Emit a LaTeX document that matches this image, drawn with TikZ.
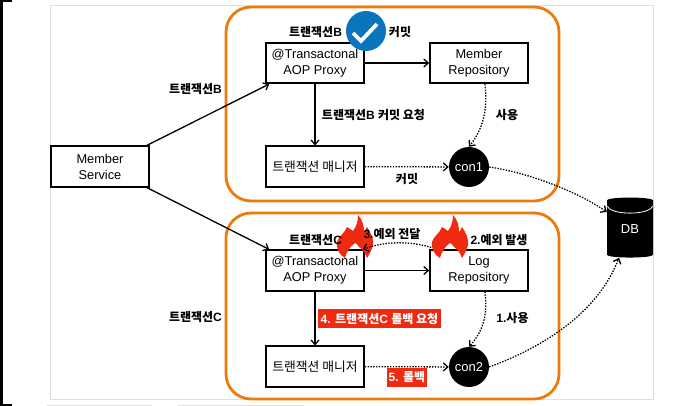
\documentclass[tikz,border=0pt]{standalone}
\usepackage{fontspec}
\setmainfont{Liberation Sans}
\newfontfamily\kr{Noto Sans CJK KR}
\usetikzlibrary{shapes.geometric,arrows.meta}
\definecolor{framegray}{HTML}{E0E0E0}
\definecolor{txorange}{HTML}{EE7A0C}
\definecolor{firered}{HTML}{EE2A10}
\definecolor{checkblue}{HTML}{0A75BC}
\tikzset{
  compbox/.style={draw,line width=1.6pt,minimum width=98pt,minimum height=40.5pt,align=center,inner sep=0pt,font=\fontsize{12.8}{16}\selectfont},
  txbox/.style={draw=txorange,line width=2.8pt,rounded corners=25pt},
  connode/.style={circle,fill=black,text=white,minimum size=40pt,inner sep=0pt,font=\fontsize{13}{16}\selectfont},
  lbl/.style={inner sep=0pt,font=\fontsize{12}{14}\selectfont\bfseries},
  redlbl/.style={fill=firered,text=white,inner sep=0pt,minimum height=19pt,font=\fontsize{12}{14}\selectfont\bfseries},
  call/.style={-{Straight Barb[length=4.5pt,width=8pt]},line width=1.3pt},
  use/.style={-{Straight Barb[length=4.5pt,width=8pt]},line width=1.3pt,dash pattern=on 1.4pt off 1.4pt},
  fire/.pic={
    \fill[firered] (-10,22) .. controls (-16,19) and (-19,12) .. (-18,6)
      .. controls (-17,1) and (-10,-3) .. (-8,-9)
      .. controls (-5,-8) and (-3,-5) .. (-2,-5)
      .. controls (2,-10) and (3,-16) .. (3,-21)
      .. controls (8,-16) and (9,-9) .. (9,-4)
      .. controls (10,-5) and (11,-6) .. (12,-9)
      .. controls (16,-3) and (19,3) .. (18,9)
      .. controls (17,14) and (14,19) .. (12,22)
      .. controls (10,16) and (6,12) .. (4,11)
      .. controls (3,9) and (1,7) .. (0,7)
      .. controls (-3,9) and (-8,14) .. (-10,22) -- cycle;
  },
}
\begin{document}
\begin{tikzpicture}[x=1pt,y=-1pt]
  \useasboundingbox (0,0) rectangle (680,406);

  % frame of the slide
  \draw[framegray,line width=1pt] (50.5,6) rectangle (653,399);
  \fill[black] (0,0) rectangle (3,406);
  \fill[black] (0,0) rectangle (12,2);
  \fill[black] (0,404) rectangle (12,406);
  \fill[framegray] (47,404.5) rectangle (152,406);
  \fill[framegray] (178,404.5) rectangle (304,406);

  % orange groups
  \draw[txbox] (226,7) rectangle (559,201);
  \draw[txbox] (226,213) rectangle (559,399);

  % boxes
  \node[compbox] (ms) at (100,166.5) {Member\\Service};
  \node[compbox] (proxyb) at (315,63) {@Transactonal\\AOP Proxy};
  \node[compbox] (repob) at (479,63) {Member\\Repository};
  \node[compbox] (mgrb) at (315,166.5) {\kr 트랜잭션 매니저};
  \node[connode] (con1) at (469,167) {con1};
  \node[compbox] (proxyc) at (315,270.5) {@Transactonal\\AOP Proxy};
  \node[compbox] (repoc) at (479,270.5) {Log\\Repository};
  \node[compbox] (mgrc) at (315,366.5) {\kr 트랜잭션 매니저};
  \node[connode] (con2) at (469,367) {con2};

  % DB
  \node[cylinder,shape border rotate=90,aspect=0.3,fill=black,text=white,minimum width=46pt,minimum height=60pt,inner sep=0pt,font=\fontsize{13}{16}\selectfont] (db) at (630,229) {DB};
  \draw[white,line width=0.8pt] (607.5,206) .. controls (610,215.5) and (650,215.5) .. (652.5,206);

  % calls
  \draw[call] ([xshift=-3pt]ms.north east) -- ([xshift=4pt]proxyb.south west);
  \draw[call] ([xshift=-3pt]ms.south east) -- ([xshift=4pt]proxyc.north west);
  \draw[call] (proxyb) -- (repob);
  \draw[call] (proxyc) -- (repoc);
  \draw[call] (proxyb) -- (mgrb);
  \draw[call] (proxyc) -- (mgrc);

  % connections
  \draw[use] (mgrb) -- (con1);
  \draw[use] (mgrc) -- (con2);
  \draw[use] ([xshift=6pt]repob.south) .. controls (487,105) and (486,125) .. (con1.north);
  \draw[use] ([xshift=6pt]repoc.south) .. controls (487,310) and (486,328) .. (con2.north);
  \draw[use] (con1.east) .. controls (525,172) and (575,190) .. ([yshift=17pt]db.west);
  \draw[use] (con2.east) .. controls (530,352) and (595,320) .. ([xshift=-11pt]db.south);

  % fire
  \pic at (355,236) {fire};
  \pic at (450,236) {fire};
  \draw[use] ([xshift=2pt,yshift=2pt]repoc.north west) .. controls (410,241) and (385,241) .. ([xshift=-2pt]proxyc.north east);

  % check
  \node[circle,fill=checkblue,minimum size=40pt,inner sep=0pt] (check) at (366,31) {};
  \coordinate (c1) at (353,33);
  \coordinate (c2) at (361,41);
  \coordinate (c3) at (377,24);
  \draw[white,line width=3.8pt] (c1) -- (c2) -- (c3);

  % labels
  \node[lbl] (lb1) at (315.5,32) {{\kr 트랜잭션}B};
  \node[lbl] (lb2) at (400,32) {\kr 커밋};
  \node[lbl] (lb3) at (195.5,89) {{\kr 트랜잭션}B};
  \node[lbl] (lb4) at (373.5,115) {{\kr 트랜잭션}B {\kr 커밋 요청}};
  \node[lbl] (lb5) at (507,115) {\kr 사용};
  \node[lbl] (lb6) at (407,179) {\kr 커밋};
  \node[lbl] (lc1) at (315.5,240) {{\kr 트랜잭션}C};
  \node[lbl] (lc2) at (392,234) {3.{\kr 예외 전달}};
  \node[lbl] (lc3) at (499,240) {2.{\kr 예외 발생}};
  \node[lbl] (lc4) at (195.5,317) {{\kr 트랜잭션}C};
  \node[redlbl,minimum width=123pt] (lc5) at (379.5,318.5) {4. {\kr 트랜잭션}C {\kr 롤백 요청}};
  \node[lbl] (lc6) at (512.5,318) {1.{\kr 사용}};
  \node[redlbl,minimum width=40pt] (lc7) at (407,377.5) {5. {\kr 롤백}};
\end{tikzpicture}
\end{document}
